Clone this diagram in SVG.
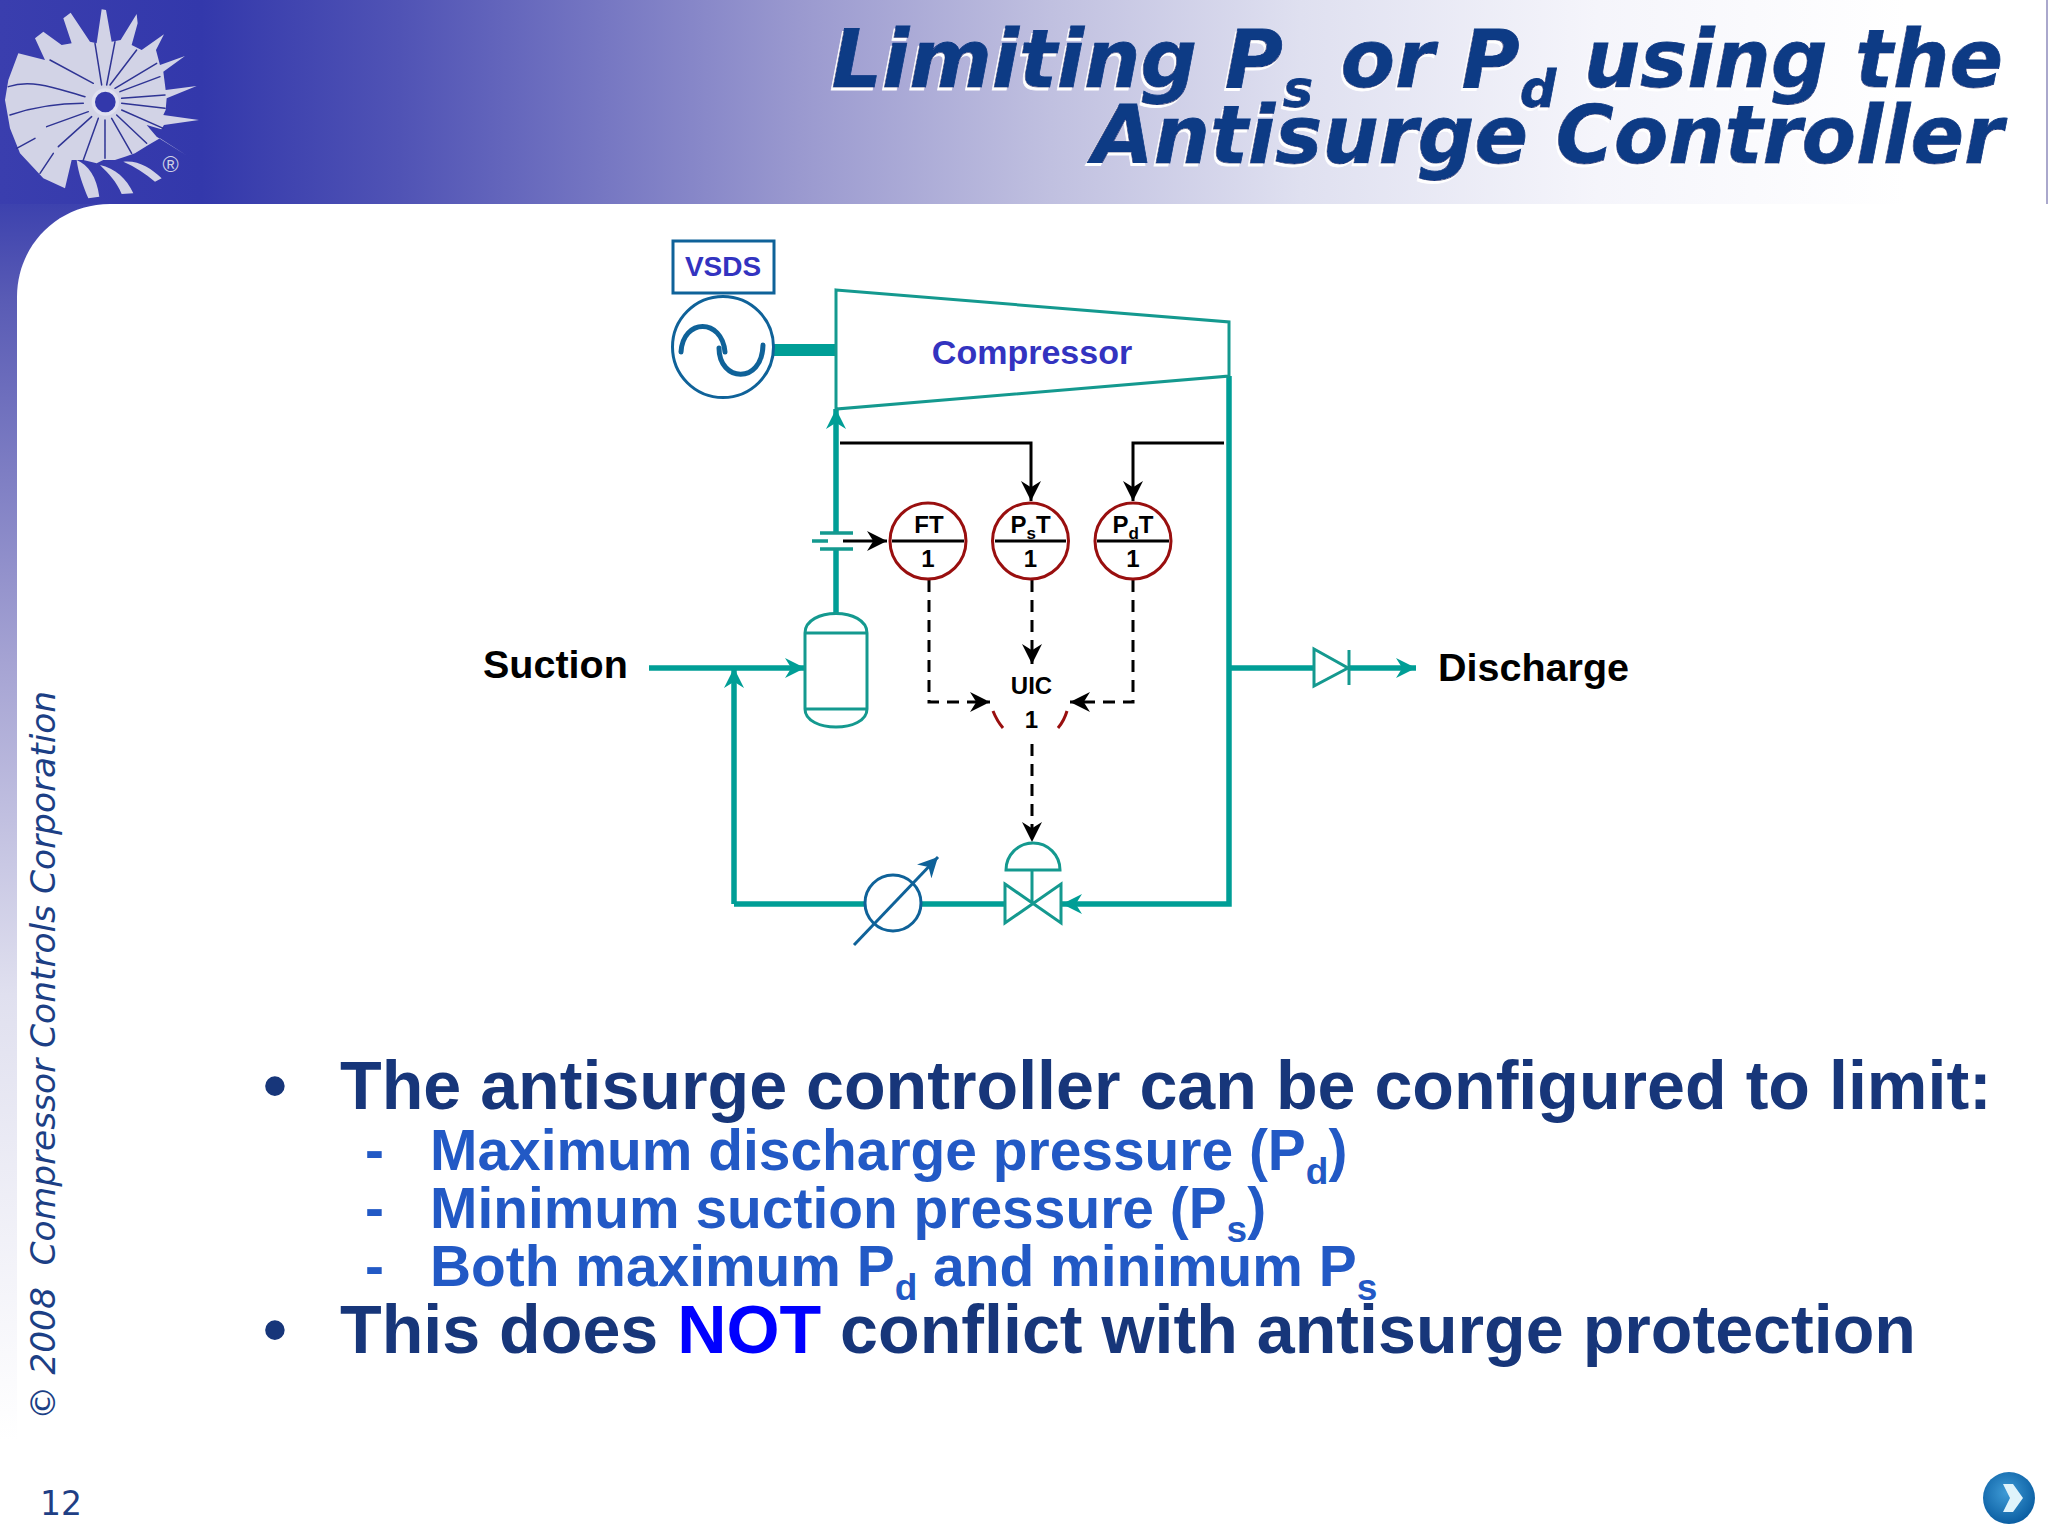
<svg xmlns="http://www.w3.org/2000/svg" width="2048" height="1536" viewBox="0 0 2048 1536">
<defs>
<linearGradient id="bannerGrad" gradientUnits="userSpaceOnUse" x1="0" y1="0" x2="2048" y2="0">
<stop offset="0" stop-color="#3a3eae"/><stop offset="0.098" stop-color="#3338ab"/><stop offset="0.195" stop-color="#5053b5"/><stop offset="0.39" stop-color="#9a99cf"/><stop offset="0.513" stop-color="#c0c0e0"/><stop offset="0.635" stop-color="#dfe0f0"/><stop offset="0.78" stop-color="#f5f5fb"/><stop offset="0.93" stop-color="#ffffff"/>
</linearGradient>
<linearGradient id="stripGrad" gradientUnits="userSpaceOnUse" x1="0" y1="204" x2="0" y2="1440">
<stop offset="0" stop-color="#3d42ae"/><stop offset="0.08" stop-color="#5a5cb5"/><stop offset="0.37" stop-color="#a5a3d3"/><stop offset="0.64" stop-color="#e0e0ef"/><stop offset="1" stop-color="#ffffff"/>
</linearGradient>
<radialGradient id="btnGrad" cx="0.45" cy="0.4" r="0.6">
<stop offset="0" stop-color="#3f9bd6"/><stop offset="1" stop-color="#0b5fa3"/>
</radialGradient>
<filter id="titleShadow" x="-5%" y="-10%" width="110%" height="120%">
<feDropShadow dx="-2" dy="3" stdDeviation="0.3" flood-color="#ffffff"/>
</filter>
<marker id="teal" markerUnits="userSpaceOnUse" markerWidth="20" markerHeight="20" refX="16" refY="8" orient="auto" viewBox="0 0 16 16"><path d="M0,0 L16,8 L0,16 L5,8 Z" fill="#009e96"/></marker>
<marker id="black" markerUnits="userSpaceOnUse" markerWidth="20" markerHeight="20" refX="16" refY="8" orient="auto" viewBox="0 0 16 16"><path d="M0,0 L16,8 L0,16 L5,8 Z" fill="#000"/></marker>
<marker id="blue" markerUnits="userSpaceOnUse" markerWidth="20" markerHeight="20" refX="16" refY="8" orient="auto" viewBox="0 0 16 16"><path d="M0,0 L16,8 L0,16 L5,8 Z" fill="#0f6299"/></marker>
</defs>
<style>
text{font-family:"Liberation Sans",Arial,sans-serif}
.pipe{fill:none;stroke:#009e96;stroke-width:5.5}
.teal{fill:#fff;stroke:#14998f;stroke-width:3}
.tealo{fill:none;stroke:#14998f;stroke-width:3}
.sig{fill:none;stroke:#000;stroke-width:3}
.dash{fill:none;stroke:#000;stroke-width:3;stroke-dasharray:12 8}
.inst{fill:#fff;stroke:#990f0f;stroke-width:3}
.ilab{font-size:24px;font-weight:700;fill:#000;text-anchor:middle}
.ilabs{font-size:17px}
.lab{font-size:39.5px;font-weight:700;fill:#000}
.blu{font-weight:700;fill:#3333c0;text-anchor:middle}
.b1{font-size:68.2px;font-weight:700;fill:#17367a}
.b2{font-size:56.9px;font-weight:700;fill:#2259c5}
.title{font-family:"DejaVu Sans",sans-serif;font-size:81px;font-weight:700;font-style:italic;fill:#0a3a85;stroke:#0a3a85;stroke-width:0.8;text-anchor:end;filter:url(#titleShadow)}
.spoke{fill:none;stroke:#2f3494;stroke-width:4.5;stroke-linecap:round}
</style>
<rect width="2048" height="1536" fill="#fff"/>
<g id="background">
<rect x="0" y="0" width="2048" height="204" fill="url(#bannerGrad)"/>
<rect x="0" y="204" width="110" height="1300" fill="url(#stripGrad)"/>
<path d="M17,1536 V297 C17,245 58,204 110,204 H2048 V1536 Z" fill="#fff"/>
<rect x="2046" y="0" width="2" height="204" fill="#aaa8cc"/>
</g>
<g id="logo" transform="scale(0.3333)">
<path d="M105,115 L130,95 L185,135 L215,130 L190,55 L212,38 L270,125 L290,130 L305,28 L318,30 L335,125 L362,120 L410,42 L413,70 L395,135 L425,150 L492,103 L468,150 L480,195 L555,168 L490,215 L497,270 L590,258 L500,295 L497,330 L490,345 L597,360 L492,375 L484,388 L440,375 L470,410 L558,465 L480,415 L445,435 L405,460 L375,470 L345,480 L310,480 L290,490 L250,480 L215,480 L195,565 L130,535 L60,460 L30,385 L15,300 L25,240 L55,160 L135,180 Z" fill="#d2d3e6"/>
<path d="M230,480 C265,495 290,530 298,590 L265,595 C250,560 235,520 230,480 Z M300,495 C345,505 380,535 400,580 L365,582 C350,545 325,520 300,495 Z M370,485 C415,480 455,505 485,535 L465,545 C435,520 405,500 370,485 Z" fill="#d2d3e6"/>
<path class="spoke" d="M280,250L150,180M255,290C180,270 100,235 25,260M250,310C170,310 90,325 30,345M265,335L140,380M275,350L175,440M295,355L250,480M315,360L315,475M335,355L395,460M350,345L440,430M365,330L490,385M365,310L495,325M365,295L495,285M360,275L480,230M345,265L470,190M330,255L410,150M320,255L345,125M305,255L285,130M105,415L50,445M160,460L120,520"/>
<circle cx="316" cy="306" r="36" fill="#3338ab" stroke="#dfe0f0" stroke-width="10"/>
<text x="512" y="517" font-size="66" fill="#cfd1e6" text-anchor="middle">®</text>
</g>
<g id="title">
<g transform="translate(2003,0) scale(0.978,1)"><text class="title" x="0" y="87">Limiting P<tspan font-size="52" dy="20">s</tspan><tspan dy="-20"> or P</tspan><tspan font-size="52" dy="20">d</tspan><tspan dy="-20"> using the</tspan></text></g>
<g transform="translate(2003,0) scale(0.978,1)"><text class="title" x="0" y="163">Antisurge Controller</text></g>
</g>
<g id="connectors">
<path class="pipe" d="M836,615 V549 M836,533 V409" marker-end="url(#teal)"/>
<path class="pipe" d="M649,668 H805" marker-end="url(#teal)"/>
<path class="pipe" d="M734,904 V668" marker-end="url(#teal)"/>
<path class="pipe" d="M1229,376 V904 H1062" marker-end="url(#teal)"/>
<path class="pipe" d="M1004,904 H921 M865,904 H734"/>
<path class="pipe" d="M1229,668 H1313"/>
<path class="pipe" d="M1349,668 H1416" marker-end="url(#teal)"/>
<path d="M774,350 H836" fill="none" stroke="#009e96" stroke-width="12"/>
<path class="sig" d="M840,443 H1031 V501" marker-end="url(#black)"/>
<path class="sig" d="M1224,443 H1133 V501" marker-end="url(#black)"/>
<path class="sig" d="M843,541 H887" marker-end="url(#black)"/>
<path class="dash" d="M929,580 V702 H990" marker-end="url(#black)"/>
<path class="dash" d="M1133,580 V702 H1070" marker-end="url(#black)"/>
<path class="dash" d="M1032,580 V664" marker-end="url(#black)"/>
<path class="dash" d="M1032,744 V842" marker-end="url(#black)"/>
</g>
<g id="vsds">
<rect x="673" y="241" width="101" height="52" fill="#fff" stroke="#0f6299" stroke-width="3"/>
<text class="blu" x="723" y="276" font-size="28">VSDS</text>
</g>
<g id="motor">
<circle cx="723" cy="347" r="50.5" fill="#fff" stroke="#0f6299" stroke-width="3"/>
<path d="M681,352 C683,318 722,318 725,352 M719,348 C719,382 762,385 763,345" fill="none" stroke="#0f6299" stroke-width="5" stroke-linecap="round"/>
</g>
<g id="compressor">
<path class="teal" d="M836,290 L1229,322 V376 L836,409 Z"/>
<text class="blu" x="1032" y="364" font-size="34">Compressor</text>
</g>
<g id="orifice">
<path class="tealo" style="stroke-width:3.5" d="M820,533 H853 M820,549 H853 M812,541 H828"/>
</g>
<g id="FT">
<circle class="inst" cx="928" cy="541" r="38"/>
<path class="sig" d="M892,541 H964"/>
<text class="ilab" x="929" y="533">FT</text>
<text class="ilab" x="928" y="567">1</text>
</g>
<g id="PsT">
<circle class="inst" cx="1030.5" cy="541" r="38"/>
<path class="sig" d="M995,541 H1066"/>
<text class="ilab" x="1030.5" y="533">P<tspan class="ilabs" dy="6">s</tspan><tspan dy="-6">T</tspan></text>
<text class="ilab" x="1030.5" y="567">1</text>
</g>
<g id="PdT">
<circle class="inst" cx="1133" cy="541" r="38"/>
<path class="sig" d="M1097,541 H1169"/>
<text class="ilab" x="1133" y="533">P<tspan class="ilabs" dy="6">d</tspan><tspan dy="-6">T</tspan></text>
<text class="ilab" x="1133" y="567">1</text>
</g>
<g id="UIC">
<path d="M993,711 Q997,721 1003,728 M1067,711 Q1064,721 1058,728" fill="none" stroke="#990f0f" stroke-width="3"/>
<text class="ilab" x="1031.5" y="694">UIC</text>
<text class="ilab" x="1031.5" y="728">1</text>
</g>
<g id="vessel">
<path class="teal" d="M805,633 C805,607 867,607 867,633 V709 C867,733 805,733 805,709 Z"/>
<path class="tealo" d="M805,633 H867 M805,709 H867"/>
</g>
<g id="cooler">
<circle cx="893" cy="903" r="28" fill="#fff" stroke="#0f6299" stroke-width="3"/>
<path d="M854,945 L938,857" fill="none" stroke="#0f6299" stroke-width="3" marker-end="url(#blue)"/>
</g>
<g id="valve">
<path class="tealo" d="M1005,884 L1061,923 V884 L1005,923 Z M1032,870 V903"/>
<path class="teal" d="M1006,870 A27,27 0 0 1 1060,870 Z"/>
</g>
<g id="checkvalve">
<path class="teal" d="M1314,649 L1348,668 L1314,686 Z"/>
<path class="tealo" d="M1349,650 V685"/>
</g>
<g id="labels">
<text class="lab" x="483" y="678">Suction</text>
<text class="lab" x="1438" y="681">Discharge</text>
</g>
<g id="body">
<text class="b1" x="263" y="1109">•</text>
<text class="b1" x="340" y="1109">The antisurge controller can be configured to limit:</text>
<text class="b2" x="365" y="1170">-</text>
<text class="b2" x="430" y="1170">Maximum discharge pressure (P<tspan font-size="37" dy="14">d</tspan><tspan dy="-14">)</tspan></text>
<text class="b2" x="365" y="1228">-</text>
<text class="b2" x="430" y="1228">Minimum suction pressure (P<tspan font-size="37" dy="14">s</tspan><tspan dy="-14">)</tspan></text>
<text class="b2" x="365" y="1286">-</text>
<text class="b2" x="430" y="1286">Both maximum P<tspan font-size="37" dy="14">d</tspan><tspan dy="-14"> and minimum P</tspan><tspan font-size="37" dy="14">s</tspan></text>
<text class="b1" x="263" y="1353">•</text>
<text class="b1" x="340" y="1353">This does <tspan fill="#0000ff">NOT</tspan> conflict with antisurge protection</text>
</g>
<g id="footer">
<text transform="translate(55,1420) rotate(-90)" font-size="33" font-style="italic" fill="#1c3f85" textLength="729" lengthAdjust="spacingAndGlyphs" style="font-family:'DejaVu Sans',sans-serif;white-space:pre">© 2008  Compressor Controls Corporation</text>
<text x="40" y="1515" font-size="33" fill="#1f3f85" style="font-family:'DejaVu Sans',sans-serif">12</text>
</g>
<g id="next-button">
<circle cx="2009" cy="1498" r="26" fill="url(#btnGrad)"/>
<path d="M2003,1484 H2013 L2023,1498 L2013,1512 H2003 L2010,1498 Z" fill="#dff3fb"/>
</g>
</svg>
